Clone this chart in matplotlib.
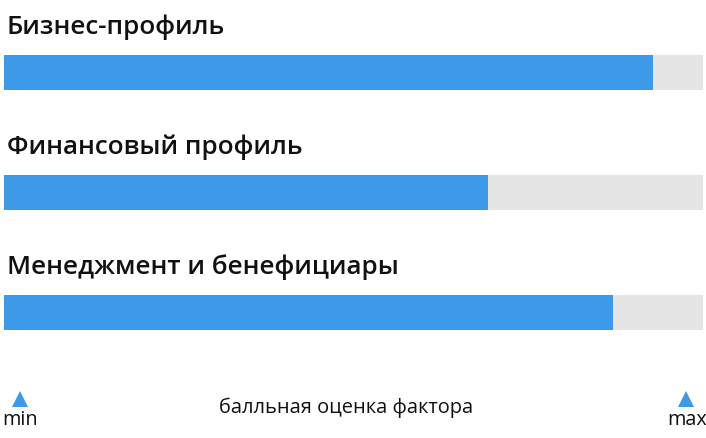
import matplotlib.pyplot as plt

categories = ["Бизнес-профиль", "Финансовый профиль", "Менеджмент и бенефициары"]
scores = [0.928, 0.692, 0.872]
score_max = 1.0
axis_label = "балльная оценка фактора"
min_label = "min"
max_label = "max"

blue = "#3d9ae8"
gray = "#e5e5e5"

W, H = 706, 438
fig = plt.figure(figsize=(W / 100, H / 100), dpi=100)
ax = fig.add_axes([3.5 / W, 0, 699.5 / W, 1])
ax.set_xlim(0, score_max)
ax.set_ylim(H, 0)
ax.axis("off")

bar_centers = [72.5, 192.5, 312.5]
for name, val, yc in zip(categories, scores, bar_centers):
    ax.barh(yc, score_max, height=35, color=gray, left=0)
    ax.barh(yc, val, height=35, color=blue, left=0)
    ax.text(0.005, yc - 39, name, fontsize=18.7, fontweight="semibold",
            family="Open Sans", color="#111111", va="baseline", ha="left")

# bottom scale
ov = fig.add_axes([0, 0, 1, 1])
ov.set_xlim(0, W)
ov.set_ylim(H, 0)
ov.axis("off")
ov.plot([20, 686], [399, 399], ls="none", marker="^", markersize=11, color=blue,
        markeredgewidth=0)
ov.text(20, 425, min_label, fontsize=14.3, ha="center", va="baseline",
        family="Open Sans", color="#111111")
ov.text(687, 425, max_label, fontsize=14.3, ha="center", va="baseline",
        family="Open Sans", color="#111111")
ov.text(346, 413, axis_label, fontsize=14.4, ha="center", va="baseline",
        family="Open Sans", color="#111111")

fig.savefig("out.png", dpi=100)
